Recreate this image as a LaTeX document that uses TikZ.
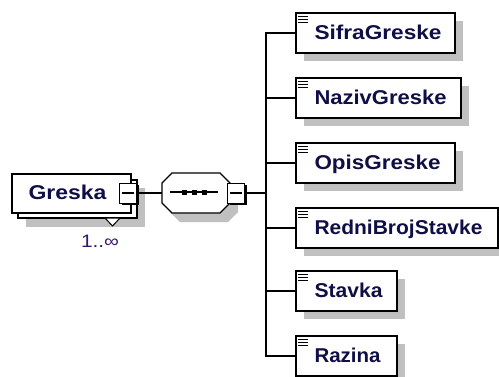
\documentclass[tikz,border=0pt]{standalone}
\usepackage{fontspec}
\setmainfont{Liberation Sans}
\usepackage{graphicx}
\usetikzlibrary{shadows}
\definecolor{shgrey}{RGB}{192,192,192}
\definecolor{txtblue}{RGB}{15,15,70}
\definecolor{cardcol}{RGB}{55,25,105}
\newcommand\fitw[2]{\resizebox{#1pt}{\height}{#2}}
\newcommand\elemnode[5]{%
  \node[elem, minimum width={#2-296}] (#1) at ({(296+#2)/2},#3) {};
  \node[lbl, anchor=base west] (#1-t) at ([xshift=19pt,yshift=14pt]#1.south west) {\fitw{#5}{#4}};
  \draw[icon] ([xshift=3pt,yshift=-4pt]#1.north west) -- ++(9.5,0);
  \draw[icon] ([xshift=3pt,yshift=-7pt]#1.north west) -- ++(9.5,0);
  \draw[icon] ([xshift=3pt,yshift=-10pt]#1.north west) -- ++(9.5,0);
}
\newcommand\octpath{(172,173) -- (220,173) -- (230,183) -- (230,203) -- (220,213) -- (172,213) -- (162,203) -- (162,183) -- cycle}
\begin{document}
\begin{tikzpicture}[x=1pt,y=-1pt,
  elem/.style={draw=black, line width=1.4pt, fill=white, minimum height=40pt, inner sep=0pt,
    drop shadow={shadow xshift=8pt, shadow yshift=-8pt, fill=shgrey, opacity=1}},
  lbl/.style={font=\bfseries\fontsize{20}{24}\selectfont, text=txtblue, inner sep=0pt},
  icon/.style={line width=1.4pt, black},
  pm/.style={draw=black, line width=1pt, fill=white, minimum width=17pt, minimum height=20pt, inner sep=0pt,
    drop shadow={shadow xshift=2pt, shadow yshift=-2pt, fill=black, opacity=1}},
  conn/.style={line width=1.4pt, black}]
\useasboundingbox (0,0) rectangle (499,376);

% Greska element (repeating)
\fill[shgrey] (26,188) rectangle (145,227);
\draw[line width=1.4pt, fill=white] (18,180) rectangle (137,218);
\node[draw=black, line width=1.4pt, fill=white, minimum width=119pt, minimum height=39pt, inner sep=0pt] (greska) at (71.5,193.5) {};
\node[lbl, anchor=base west] (greska-t) at ([xshift=17pt,yshift=14pt]greska.south west) {\fitw{78}{Greska}};
\node[pm] (gm) at (128,193) {};
\draw[line width=1.2pt] ([xshift=3pt]gm.west) -- ([xshift=-3pt]gm.east);
\draw[line width=1pt, fill=white] (105,218) -- (120,218) -- (112.5,226) -- cycle;
\node[font=\fontsize{18}{20}\selectfont, text=cardcol, inner sep=0pt, anchor=base] (card) at (100,247) {\fitw{38}{1..∞}};

% Sequence compositor
\begin{scope}[shift={(8,9)}]
  \fill[shgrey] \octpath;
\end{scope}
\draw[line width=1.3pt, fill=white] \octpath;
\coordinate (seqin) at (162,193);
\draw[line width=1.2pt] (170,192) -- (218,192);
\foreach \cx in {184.5,194.5,204.5} \fill[black] (\cx-2.5,189.5) rectangle (\cx+2.5,194.5);
\node[pm] (sm) at (236,193) {};
\draw[line width=1.2pt] ([xshift=3pt]sm.west) -- ([xshift=-3pt]sm.east);

% child elements
\elemnode{sifra}{455}{33}{SifraGreske}{127}
\elemnode{naziv}{461}{98}{NazivGreske}{132}
\elemnode{opis}{455}{163}{OpisGreske}{126}
\elemnode{redni}{498}{228}{RedniBrojStavke}{168}
\elemnode{stavka}{397}{291}{Stavka}{68}
\elemnode{razina}{397}{356}{Razina}{66}

% connectors
\draw[conn] (gm.east) -- (seqin);
\coordinate (trunk) at (266,193);
\draw[conn] (sm.east) -- (trunk);
\foreach \n in {sifra,naziv,opis,redni,stavka,razina}
  \draw[conn] (trunk) |- (\n.west);
\end{tikzpicture}
\end{document}
